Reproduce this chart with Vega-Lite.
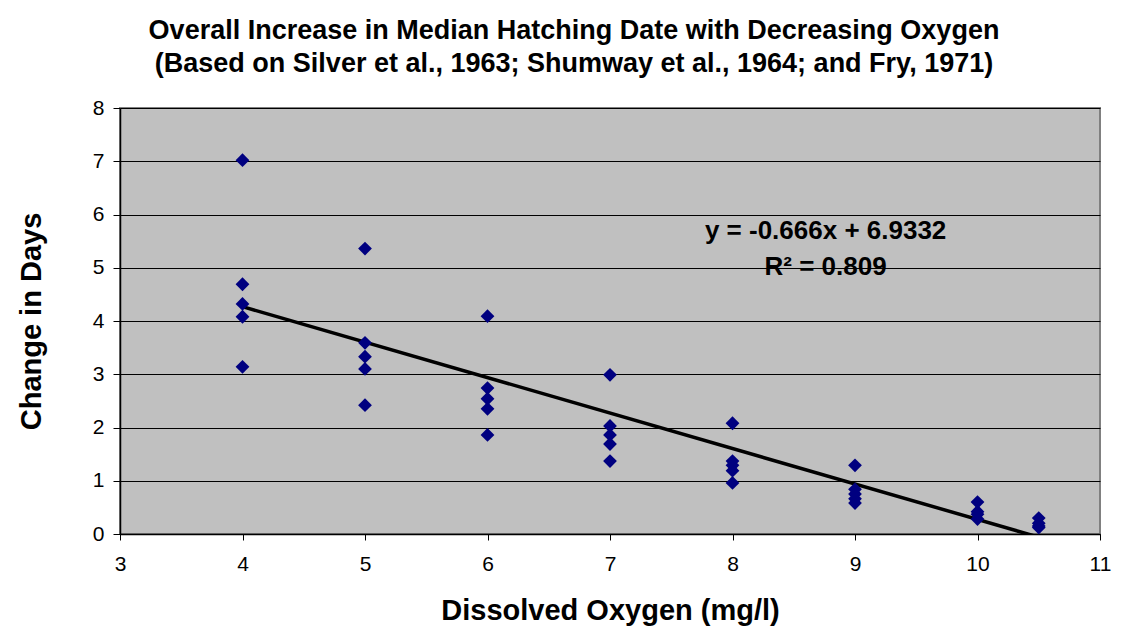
{
  "$schema": "https://vega.github.io/schema/vega-lite/v6.json",
  "width": 980,
  "height": 426,
  "autosize": {"type": "none"},
  "padding": {"left": 120, "top": 108, "right": 28, "bottom": 102},
  "background": "white",
  "config": {
    "font": "Liberation Sans",
    "view": {"fill": "#C0C0C0", "stroke": "#808080", "strokeWidth": 2}
  },
  "title": {
    "text": ["Overall Increase in Median Hatching Date with Decreasing Oxygen", "(Based on Silver et al., 1963; Shumway et al., 1964; and Fry, 1971)"],
    "fontSize": 27,
    "fontWeight": "bold",
    "lineHeight": 33,
    "color": "black",
    "anchor": "middle",
    "frame": "group",
    "dx": -36,
    "offset": 19
  },
  "datasets": {
    "pts": [
      {"oxygen": 4, "days": 7.02}, {"oxygen": 4, "days": 4.69}, {"oxygen": 4, "days": 4.32}, {"oxygen": 4, "days": 4.08}, {"oxygen": 4, "days": 3.14},
      {"oxygen": 5, "days": 5.36}, {"oxygen": 5, "days": 3.59}, {"oxygen": 5, "days": 3.33}, {"oxygen": 5, "days": 3.1}, {"oxygen": 5, "days": 2.42},
      {"oxygen": 6, "days": 4.09}, {"oxygen": 6, "days": 2.74}, {"oxygen": 6, "days": 2.54}, {"oxygen": 6, "days": 2.35}, {"oxygen": 6, "days": 1.86},
      {"oxygen": 7, "days": 2.99}, {"oxygen": 7, "days": 2.03}, {"oxygen": 7, "days": 1.86}, {"oxygen": 7, "days": 1.69}, {"oxygen": 7, "days": 1.37},
      {"oxygen": 8, "days": 2.08}, {"oxygen": 8, "days": 1.37}, {"oxygen": 8, "days": 1.29}, {"oxygen": 8, "days": 1.19}, {"oxygen": 8, "days": 0.96},
      {"oxygen": 9, "days": 1.29}, {"oxygen": 9, "days": 0.84}, {"oxygen": 9, "days": 0.75}, {"oxygen": 9, "days": 0.66}, {"oxygen": 9, "days": 0.58},
      {"oxygen": 10, "days": 0.6}, {"oxygen": 10, "days": 0.42}, {"oxygen": 10, "days": 0.37}, {"oxygen": 10, "days": 0.28},
      {"oxygen": 10.5, "days": 0.3}, {"oxygen": 10.5, "days": 0.2}, {"oxygen": 10.5, "days": 0.15}, {"oxygen": 10.5, "days": 0.12}
    ],
    "trend": [
      {"oxygen": 4, "days": 4.2692},
      {"oxygen": 10.5, "days": -0.0598}
    ],
    "labels": [
      {"oxygen": 8.76, "days": 5.69, "text": "y = -0.666x + 6.9332"},
      {"oxygen": 8.76, "days": 5.01, "text": "R² = 0.809"}
    ]
  },
  "encoding": {
    "x": {
      "field": "oxygen", "type": "quantitative",
      "scale": {"domain": [3, 11], "nice": false, "zero": false},
      "axis": {
        "title": "Dissolved Oxygen (mg/l)",
        "titleFontSize": 29, "titleFontWeight": "bold", "titleColor": "black", "titlePadding": 22,
        "values": [3, 4, 5, 6, 7, 8, 9, 10, 11],
        "labelFontSize": 21, "labelColor": "black", "labelPadding": 13,
        "tickColor": "black", "tickSize": 6, "domainColor": "black", "domainWidth": 1.5,
        "grid": false, "labelFlush": false, "labelOverlap": false
      }
    },
    "y": {
      "field": "days", "type": "quantitative",
      "scale": {"domain": [0, 8], "nice": false},
      "axis": {
        "title": "Change in Days",
        "titleFontSize": 29, "titleFontWeight": "bold", "titleColor": "black", "titlePadding": 46,
        "values": [0, 1, 2, 3, 4, 5, 6, 7, 8],
        "labelFontSize": 21, "labelColor": "black", "labelPadding": 9,
        "tickColor": "black", "tickSize": 7, "domainColor": "black", "domainWidth": 1.5,
        "grid": true, "gridColor": "black", "gridWidth": 1, "gridOpacity": 1,
        "labelFlush": false, "labelOverlap": false
      }
    }
  },
  "layer": [
    {
      "data": {"name": "trend"},
      "mark": {"type": "line", "color": "black", "strokeWidth": 3.5, "clip": true}
    },
    {
      "data": {"name": "pts"},
      "mark": {"type": "point", "shape": "diamond", "filled": true, "color": "#000080", "opacity": 1, "size": 190}
    },
    {
      "data": {"name": "labels"},
      "mark": {"type": "text", "fontSize": 26, "fontWeight": "bold", "color": "black", "align": "center", "baseline": "middle"},
      "encoding": {"text": {"field": "text"}}
    }
  ]
}
